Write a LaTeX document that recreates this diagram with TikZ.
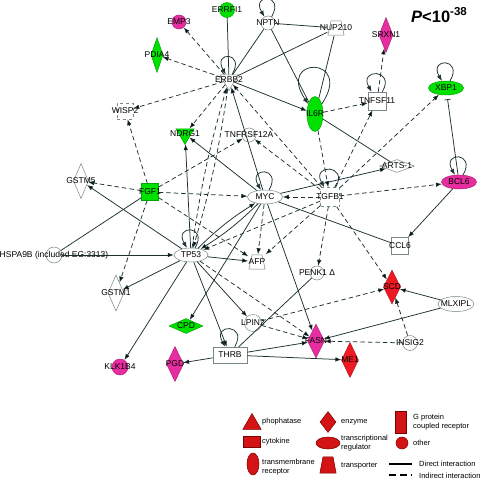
\documentclass[tikz,border=0pt]{standalone}
\usepackage{fontspec}
\setmainfont{Liberation Sans}
\usepackage{tikz}
\usetikzlibrary{shapes.geometric,arrows.meta}

\definecolor{ipagreen}{RGB}{0,225,0}
\definecolor{ipapink}{RGB}{232,45,160}
\definecolor{ipared}{RGB}{238,25,35}
\definecolor{legred}{RGB}{212,20,20}
\definecolor{legrim}{RGB}{120,0,0}
\definecolor{wire}{RGB}{28,48,48}
\definecolor{rim}{RGB}{120,135,135}

\tikzset{
  gene/.style={draw=rim, fill=white, line width=0.5pt, inner sep=0pt,
    label={[font=\fontsize{8.5}{9}\selectfont, inner sep=0pt]center:{#1}}},
  gcircle/.style={gene=#1, circle, minimum size=15pt},
  gell/.style={gene=#1, ellipse, minimum width=35pt, minimum height=14pt},
  gvell/.style={gene=#1, ellipse, minimum width=16pt, minimum height=35pt},
  gdiam/.style={gene=#1, diamond, minimum width=16pt, minimum height=35pt},
  ghdiam/.style={gene=#1, diamond, minimum width=35pt, minimum height=14pt},
  gbox/.style={gene=#1, rectangle, minimum size=18pt},
  gdbox/.style={gene=#1, rectangle, minimum size=19pt, dashed},
  gtri/.style={gene=#1, regular polygon, regular polygon sides=3,
    shape border rotate=180, minimum size=21pt},
  trapfill/.style 2 args={rectangle, draw=none, fill=none,
    path picture={\draw[#1, fill=#2, line width=0.5pt]
      ([xshift=0.4pt,yshift=0.4pt]path picture bounding box.south west)
      -- ([xshift=-0.4pt,yshift=0.4pt]path picture bounding box.south east)
      -- ([xshift=-3.5pt,yshift=-0.4pt]path picture bounding box.north east)
      -- ([xshift=3.5pt,yshift=-0.4pt]path picture bounding box.north west)
      -- cycle;}},
  gtrap/.style={gene=#1, trapfill={rim}{white}, minimum width=17pt, minimum height=15pt},
  greenfill/.style={fill=ipagreen, draw=ipagreen!75!black},
  pinkfill/.style={fill=ipapink, draw=ipapink!75!black},
  redfill/.style={fill=ipared, draw=ipared!75!black},
  wireline/.style={draw=wire, line width=0.75pt},
  direct/.style={wireline, -{Latex[length=6pt,width=4.5pt]}},
  indirect/.style={direct, dash pattern=on 4.5pt off 3pt},
  selfloop/.style={direct, loop, out=60, in=120, looseness=1, min distance=27pt},
  legshape/.style={fill=legred, draw=legrim, line width=0.5pt, inner sep=0pt},
  legtext/.style={anchor=west, inner sep=0pt, align=left,
    font=\fontsize{7.5}{9}\selectfont}
}

\begin{document}
\begin{tikzpicture}[x=1pt,y=1pt]
\useasboundingbox[fill=white] (0,0) rectangle (480,-480);

\node[anchor=west, inner sep=0pt, font=\fontsize{16.5}{17}\selectfont\bfseries]
  (pval) at (411,-15) {\textit{P}<10\textsuperscript{-38}};

% genes
\node[gcircle=ERRFI1, greenfill] (errfi1) at (227,-10) {};
\node[gcircle=EMP3, pinkfill, minimum size=14pt] (emp3) at (179,-22) {};
\node[gcircle=NPTN, minimum size=14pt] (nptn) at (268,-23) {};
\node[gtrap=NUP210] (nup210) at (336,-28) {};
\node[gdiam=SRXN1, pinkfill, minimum width=14pt] (srxn1) at (386,-35) {};
\node[gdiam=PDIA4, greenfill, minimum width=12pt] (pdia4) at (157,-55) {};
\node[gtri=ERBB2] (erbb2) at (229,-80) {};
\node[gdbox=WISP2, minimum size=16pt] (wisp2) at (125,-111) {};
\node[gtri=NDRG1, greenfill] (ndrg1) at (185,-134) {};
\node[gcircle=TNFRSF12A, minimum size=14pt] (tnfrsf12a) at (249,-135) {};
\node[gvell=IL6R, greenfill] (il6r) at (315,-114) {};
\node[gbox=TNFSF11] (tnfsf11) at (377,-101) {};
\node[gell=XBP1, greenfill] (xbp1) at (446,-88) {};
\node[gdiam=GSTM5, minimum width=15pt] (gstm5) at (81,-181) {};
\node[gbox=FGF1, greenfill, minimum size=17pt] (fgf1) at (150,-192) {};
\node[gell=MYC] (myc) at (265,-197) {};
\node[gdbox=TGFB1] (tgfb1) at (330,-197) {};
\node[ghdiam=ARTS-1, minimum height=13pt] (arts1) at (397,-166) {};
\node[gell=BCL6, pinkfill] (bcl6) at (459,-182) {};
\node[gbox=CCL6, minimum size=17pt] (ccl6) at (400,-246) {};
\node[gcircle={HSPA9B (included EG:3313)}, minimum size=16pt] (hspa9b) at (54,-255) {};
\node[gell=TP53, minimum width=34pt] (tp53) at (191,-255) {};
\node[gtrap=AFP] (afp) at (257,-262) {};
\node[gcircle={PENK1 Δ}, minimum size=14pt] (penk1) at (317,-273) {};
\node[gdiam=GSTM1, minimum height=36pt] (gstm1) at (116,-293) {};
\node[gdiam=SCD, redfill, minimum width=17pt, minimum height=34pt] (scd) at (392,-287) {};
\node[gell=MLXIPL, minimum width=36pt, minimum height=15pt] (mlxipl) at (456,-304) {};
\node[ghdiam=CPD, greenfill, minimum width=34pt, minimum height=15pt] (cpd) at (186,-326) {};
\node[gcircle=LPIN2, minimum size=17pt] (lpin2) at (253,-323) {};
\node[gdiam=FASN, pinkfill, minimum width=17pt, minimum height=34pt] (fasn) at (316,-341) {};
\node[gcircle=INSIG2] (insig2) at (410,-343) {};
\node[gene=THRB, rectangle, minimum width=34pt, minimum height=16pt] (thrb) at (230,-355) {};
\node[gdiam=PGD, pinkfill, minimum width=17pt] (pgd) at (175,-364) {};
\node[gdiam=ME1, redfill, minimum width=17pt] (me1) at (350,-360) {};
\node[gcircle=KLK1B4, pinkfill, minimum size=16pt] (klk1b4) at (120,-367) {};

% direct interactions
\path[wireline]
  (errfi1) edge (erbb2)
  (nptn) edge (erbb2) edge (nup210) edge (il6r)
  (nup210) edge (erbb2) edge (il6r)
  (il6r) edge (arts1)
  (myc) edge (ccl6)
  (fgf1) edge (hspa9b)
  (penk1) edge (thrb);
\draw[wireline, -{Bar[width=6pt]}, shorten >=4pt] (bcl6) -- (xbp1);
\path[direct]
  (erbb2) edge (il6r)
  (myc) edge (erbb2) edge (ndrg1) edge (cpd) edge (fasn) edge (arts1)
        edge[bend left=6] (tp53)
  (tp53) edge (ndrg1) edge (gstm5) edge (gstm1) edge (afp) edge (klk1b4)
         edge (thrb) edge (lpin2) edge[bend left=6] (myc)
  (hspa9b) edge (tp53)
  (bcl6) edge (ccl6)
  (thrb) edge (fasn) edge (me1) edge (pgd)
  (mlxipl) edge (scd) edge (fasn);

% indirect interactions
\path[indirect]
  (erbb2) edge (emp3) edge (pdia4) edge (wisp2) edge (ndrg1)
          edge[bend left=4] (tp53)
  (tp53) edge[bend left=4] (erbb2) edge (fasn)
  (fgf1) edge (wisp2) edge (gstm5) edge (gstm1) edge (myc)
         edge (tnfrsf12a) edge (afp)
  (tgfb1) edge (tnfrsf12a) edge (erbb2) edge (myc) edge (tp53) edge (afp)
          edge (bcl6) edge (penk1) edge (scd) edge (tnfsf11) edge (xbp1)
  (myc) edge (afp)
  (il6r) edge (tgfb1) edge (tnfsf11)
  (tnfsf11) edge (srxn1)
  (lpin2) edge (fasn) edge (scd)
  (insig2) edge (scd) edge (fasn);

% self loops
\foreach \g in {erbb2,nptn,tnfsf11,xbp1,myc,tgfb1,bcl6,tp53,thrb}
  \path (\g) edge[selfloop] (\g);
\path (il6r) edge[selfloop, out=56, in=124, min distance=58pt] (il6r);

% legend
\node[legshape, regular polygon, regular polygon sides=3, minimum size=21pt] (lgphos) at (252,-424) {};
\node[legtext] (lgphost) at (262,-422) {phophatase};
\node[legshape, diamond, minimum width=16pt, minimum height=21pt] (lgenz) at (328,-422) {};
\node[legtext] (lgenzt) at (341,-422) {enzyme};
\node[legshape, rectangle, minimum width=11pt, minimum height=22pt] (lggpcr) at (401,-422) {};
\node[legtext] (lggpcrt) at (413,-422) {G protein\\coupled receptor};
\node[legshape, rectangle, minimum width=17pt, minimum height=11pt] (lgcyto) at (252,-442) {};
\node[legtext] (lgcytot) at (262,-442) {cytokine};
\node[legshape, ellipse, minimum width=24pt, minimum height=12pt] (lgtreg) at (328,-443) {};
\node[legtext] (lgtregt) at (341,-443) {transcriptional\\regulator};
\node[legshape, circle, minimum size=12pt] (lgother) at (402,-443) {};
\node[legtext] (lgothert) at (413,-443) {other};
\node[legshape, ellipse, minimum width=12pt, minimum height=22pt] (lgtmr) at (253,-464) {};
\node[legtext] (lgtmrt) at (262,-467) {transmembrane\\receptor};
\node[inner sep=0pt, trapfill={legrim}{legred}, minimum width=17pt, minimum height=17pt] (lgtrans) at (328,-465) {};
\node[legtext] (lgtranst) at (341,-466) {transporter};
\coordinate (lgd1) at (389,-464);
\coordinate (lgd2) at (412,-464);
\coordinate (lgi1) at (389,-475);
\coordinate (lgi2) at (412,-475);
\draw[line width=2pt] (lgd1) -- (lgd2);
\draw[line width=2pt, dash pattern=on 7pt off 4pt] (lgi1) -- (lgi2);
\node[legtext] (lgdt) at (419,-464) {Direct interaction};
\node[legtext] (lgit) at (419,-476) {Indirect interaction};
\end{tikzpicture}
\end{document}
